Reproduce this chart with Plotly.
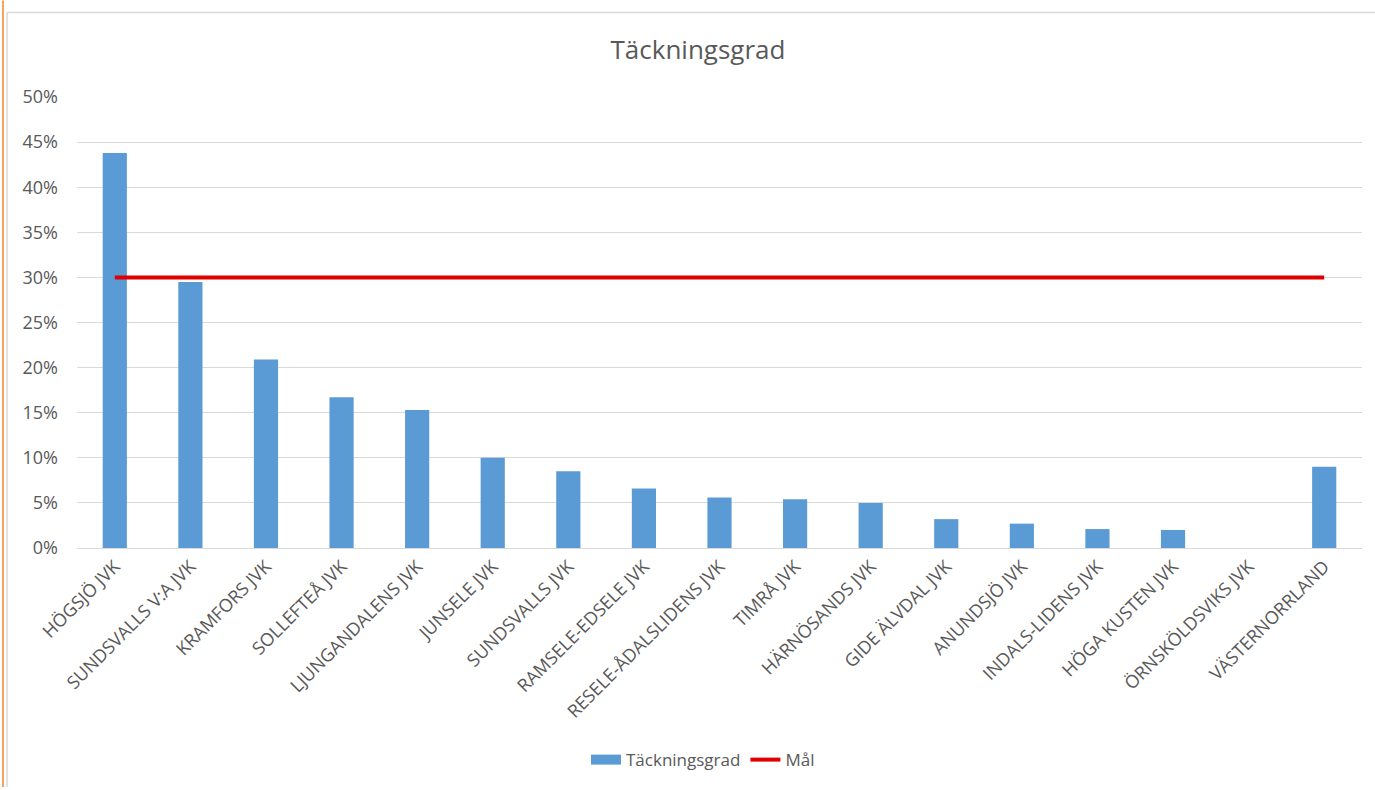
import plotly.graph_objects as go

categories = ["HÖGSJÖ JVK", "SUNDSVALLS V:A JVK", "KRAMFORS JVK", "SOLLEFTEÅ JVK",
              "LJUNGANDALENS JVK", "JUNSELE JVK", "SUNDSVALLS JVK", "RAMSELE-EDSELE JVK",
              "RESELE-ÅDALSLIDENS JVK", "TIMRÅ JVK", "HÄRNÖSANDS JVK", "GIDE ÄLVDAL JVK",
              "ANUNDSJÖ JVK", "INDALS-LIDENS JVK", "HÖGA KUSTEN JVK", "ÖRNSKÖLDSVIKS JVK",
              "VÄSTERNORRLAND"]
tackningsgrad = [0.438, 0.295, 0.209, 0.167, 0.153, 0.100, 0.085, 0.066, 0.056, 0.054,
                 0.050, 0.032, 0.027, 0.021, 0.020, 0.0, 0.090]
mal = [0.30] * len(categories)
y_ticks = [0, 0.05, 0.10, 0.15, 0.20, 0.25, 0.30, 0.35, 0.40, 0.45, 0.50]

W, H = 1375, 790
ML, MT = 77, 97
MR = W - 1362
MB = H - 550
pw, ph = W - ML - MR, H - MT - MB

def px_x(p):
    return (p - ML) / pw

def px_y(p):
    return (H - MB - p) / ph

text_color = "#595959"
font = "Open Sans, Arial, sans-serif"
blue = "#5B9BD5"
red = "#E00000"

fig = go.Figure()
fig.add_trace(go.Bar(x=categories, y=tackningsgrad, name="Täckningsgrad",
                     marker=dict(color=blue, line=dict(width=0)), showlegend=False))
# legend-only entry with a wide rectangular swatch, like the original
fig.add_trace(go.Scatter(x=[None], y=[None], name="Täckningsgrad", mode="lines",
                         line=dict(color=blue, width=11)))
fig.add_trace(go.Scatter(x=categories, y=mal, name="Mål", mode="lines",
                         line=dict(color=red, width=4)))

fig.update_layout(
    width=W, height=H,
    margin=dict(l=ML, r=MR, t=MT, b=MB),
    paper_bgcolor="white", plot_bgcolor="white",
    title=dict(text="Täckningsgrad", x=698 / W, xanchor="center", y=1 - 50 / H,
               yanchor="middle", font=dict(family=font, size=26, color=text_color)),
    bargap=0.68,
    showlegend=True,
    legend=dict(orientation="h", x=px_x(703), xanchor="center", y=px_y(763), yanchor="middle",
                font=dict(family=font, size=17, color=text_color)),
    xaxis=dict(tickangle=-45, tickfont=dict(family=font, size=18, color=text_color),
               showgrid=False, showline=True, linecolor="#d9d9d9", linewidth=1,
               ticks="", fixedrange=True),
    yaxis=dict(range=[0, 0.5], tickvals=y_ticks, tickformat=".0%",
               tickfont=dict(family=font, size=18, color=text_color),
               showgrid=True, gridcolor="#d9d9d9", gridwidth=1, zeroline=False,
               showline=False, ticks="", ticklabelstandoff=18),
    shapes=[
        dict(type="line", xref="paper", yref="paper", x0=px_x(3), x1=px_x(3),
             y0=px_y(0), y1=px_y(790), line=dict(color="#F4A460", width=2)),
        dict(type="line", xref="paper", yref="paper", x0=px_x(7), x1=px_x(1375),
             y0=px_y(12), y1=px_y(12), line=dict(color="#d9d9d9", width=1.5)),
        dict(type="line", xref="paper", yref="paper", x0=px_x(7), x1=px_x(7),
             y0=px_y(12), y1=px_y(790), line=dict(color="#d9d9d9", width=1.5)),
    ],
)

fig.write_html("out.html", config={"displayModeBar": False},
               post_script="document.body.style.margin='0';document.body.style.overflow='hidden';")
